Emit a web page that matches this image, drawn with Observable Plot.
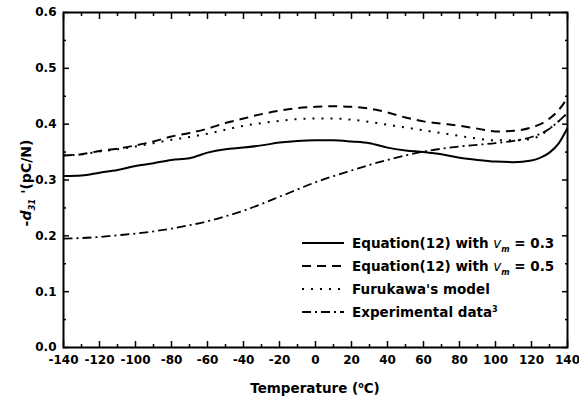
<!DOCTYPE html>
<html>
<head>
<meta charset="utf-8">
<script src="https://cdn.jsdelivr.net/npm/d3@7"></script>
<script src="https://cdn.jsdelivr.net/npm/@observablehq/plot@0.6"></script>
<style>
  html, body { margin: 0; padding: 0; background: #fff; }
  #chart { width: 579px; height: 407px; }
  svg text { font-family: "DejaVu Sans", sans-serif; }
</style>
</head>
<body>
<div id="chart"></div>
<script>
// ---- data ----
const temperature = [-140, -130, -120, -110, -100, -90, -80, -70, -60, -50, -40, -30, -20, -10, 0, 10, 20, 30, 40, 50, 60, 70, 80, 90, 100, 110, 120, 125, 130, 135, 140];
const eqVm03 = [0.307, 0.308, 0.313, 0.318, 0.325, 0.330, 0.336, 0.339, 0.349, 0.355, 0.358, 0.362, 0.367, 0.370, 0.371, 0.371, 0.369, 0.366, 0.358, 0.353, 0.350, 0.346, 0.340, 0.336, 0.333, 0.332, 0.335, 0.340, 0.349, 0.365, 0.393];
const eqVm05 = [0.344, 0.346, 0.352, 0.356, 0.362, 0.369, 0.378, 0.384, 0.392, 0.402, 0.410, 0.418, 0.424, 0.429, 0.431, 0.432, 0.431, 0.428, 0.421, 0.412, 0.405, 0.401, 0.397, 0.392, 0.387, 0.388, 0.394, 0.400, 0.410, 0.425, 0.447];
const furukawa = [0.344, 0.346, 0.351, 0.355, 0.360, 0.366, 0.372, 0.377, 0.383, 0.390, 0.397, 0.402, 0.406, 0.409, 0.410, 0.410, 0.408, 0.404, 0.399, 0.394, 0.389, 0.384, 0.379, 0.374, 0.371, 0.371, 0.374, 0.380, 0.392, 0.405, 0.420];
const experimental = [0.195, 0.196, 0.198, 0.201, 0.204, 0.208, 0.213, 0.219, 0.226, 0.235, 0.245, 0.257, 0.270, 0.283, 0.296, 0.307, 0.317, 0.327, 0.336, 0.344, 0.351, 0.356, 0.360, 0.363, 0.366, 0.370, 0.377, 0.383, 0.392, 0.405, 0.420];

const seriesKeys = ["eq03", "eq05", "fur", "exp"];
const seriesValues = [eqVm03, eqVm05, furukawa, experimental];

const xTickLabels = [-140, -120, -100, -80, -60, -40, -20, 0, 20, 40, 60, 80, 100, 120, 140];
const xMinorTicks = [-130, -110, -90, -70, -50, -30, -10, 10, 30, 50, 70, 90, 110, 130];
const yTickLabels = [0.0, 0.1, 0.2, 0.3, 0.4, 0.5, 0.6];
const yMinorTicks = [0.05, 0.15, 0.25, 0.35, 0.45, 0.55];

// ---- styles (kept apart from the data) ----
const dashStyle = { eq03: null, eq05: "9,6", fur: "2,7", exp: "9,4,2,4" };
const lineWidth = { eq03: 2, eq05: 2, fur: 2, exp: 1.8 };

const rows = seriesKeys.flatMap((k, s) =>
  temperature.map((t, i) => ({ key: k, t, v: seriesValues[s][i] })));

const fontMain = "DejaVu Sans, sans-serif";
const noText = () => "";

function inTicksX(anchor, ticks, size) {
  return Plot.axisX({ anchor, ticks, tickSize: size, dy: anchor === "bottom" ? -size : size, tickFormat: noText, label: null, strokeWidth: 1.5 });
}
function inTicksY(anchor, ticks, size) {
  return Plot.axisY({ anchor, ticks, tickSize: size, dx: anchor === "left" ? size : -size, tickFormat: noText, label: null, strokeWidth: 1.5 });
}

const chart = Plot.plot({
  width: 579,
  height: 407,
  marginTop: 12,
  marginRight: 12,
  marginBottom: 60,
  marginLeft: 63,
  style: { fontFamily: fontMain, fontWeight: "bold", fontSize: "12px", background: "#fff", color: "#000", overflow: "visible" },
  x: { domain: [-140, 140] },
  y: { domain: [0, 0.6] },
  marks: [
    ...seriesKeys.map(k => Plot.line(rows.filter(d => d.key === k), {
      x: "t", y: "v", stroke: "#000",
      strokeWidth: lineWidth[k],
      strokeDasharray: dashStyle[k],
      strokeLinecap: "butt",
      curve: "monotone-x"
    })),
    // labels
    Plot.axisX({ anchor: "bottom", ticks: xTickLabels, tickSize: 0, tickPadding: 8, tickFormat: d => String(d), label: null, fontSize: 12, fontWeight: "bold" }),
    Plot.axisY({ anchor: "left", ticks: yTickLabels, tickSize: 0, tickPadding: 7, tickFormat: d => d.toFixed(1), label: null, fontSize: 12, fontWeight: "bold" }),
    // inward ticks
    inTicksX("bottom", xTickLabels, 6),
    inTicksX("bottom", xMinorTicks, 3),
    inTicksX("top", xTickLabels, 6),
    inTicksX("top", xMinorTicks, 3),
    inTicksY("left", yTickLabels, 6),
    inTicksY("left", yMinorTicks, 3),
    inTicksY("right", yTickLabels, 6),
    inTicksY("right", yMinorTicks, 3),
    Plot.frame({ stroke: "#000", strokeWidth: 2 })
  ]
});

document.getElementById("chart").appendChild(chart);

const svg = d3.select(chart);

// x axis title: Temperature (°C)
const xt = svg.append("text")
  .attr("x", 315).attr("y", 393)
  .attr("text-anchor", "middle")
  .style("font-family", fontMain).style("font-weight", "bold").style("font-size", "13.5px")
  .attr("fill", "#000");
xt.append("tspan").text("Temperature (");
xt.append("tspan").attr("dy", -5).style("font-size", "8px").text("o");
xt.append("tspan").attr("dy", 5).text("C)");

// y axis title: -d31 '(pC/N)
const yt = svg.append("text")
  .attr("transform", "translate(31,183) rotate(-90)")
  .attr("text-anchor", "middle")
  .style("font-family", fontMain).style("font-weight", "bold").style("font-size", "14px")
  .attr("fill", "#000");
yt.append("tspan").text("-");
yt.append("tspan").style("font-style", "italic").text("d");
yt.append("tspan").attr("dy", 4).style("font-style", "italic").style("font-size", "8.5px").text("31");
yt.append("tspan").attr("dy", -4).text(" '(pC/N)");

// legend
const legendLabels = [
  { key: "eq03", parts: [["Equation(12) with ", 0], ["v", 1], ["m", 2], [" = 0.3", 3]] },
  { key: "eq05", parts: [["Equation(12) with ", 0], ["v", 1], ["m", 2], [" = 0.5", 3]] },
  { key: "fur", parts: [["Furukawa's model", 0]] },
  { key: "exp", parts: [["Experimental data", 0], ["3", 4]] }
];
const lg = svg.append("g").attr("transform", "translate(302,243)");
legendLabels.forEach((row, i) => {
  const g = lg.append("g").attr("transform", `translate(0,${i * 23})`);
  g.append("line").attr("x1", 0).attr("x2", 42).attr("y1", 0).attr("y2", 0)
    .attr("stroke", "#000").attr("stroke-width", lineWidth[row.key])
    .attr("stroke-dasharray", dashStyle[row.key] || null);
  const t = g.append("text").attr("x", 50).attr("y", 5)
    .attr("text-anchor", "start")
    .style("font-family", fontMain).style("font-weight", "bold").style("font-size", "13.5px")
    .attr("fill", "#000");
  row.parts.forEach(([s, kind]) => {
    const sp = t.append("tspan").text(s);
    if (kind === 1) sp.style("font-style", "italic").style("font-weight", "normal");
    if (kind === 2) sp.attr("dy", 4).style("font-style", "italic").style("font-size", "8px");
    if (kind === 3) sp.attr("dy", -4);
    if (kind === 4) sp.attr("dy", -5).style("font-size", "8px");
  });
});
</script>
</body>
</html>
